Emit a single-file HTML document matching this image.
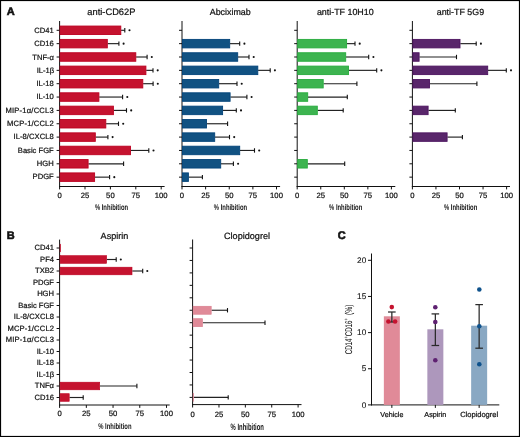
<!DOCTYPE html>
<html><head><meta charset="utf-8"><style>
html,body{margin:0;padding:0;background:#fff;}
svg{display:block;font-family:"Liberation Sans", sans-serif;will-change:transform;}
text{stroke:#111;stroke-width:0.22px;text-rendering:geometricPrecision;}
</style></head><body>
<svg width="520" height="437" viewBox="0 0 520 437">
<rect x="0" y="0" width="520" height="437" fill="#fff"/>
<line x1="59.60" y1="21.00" x2="59.60" y2="187.00" stroke="#111" stroke-width="1"/>
<line x1="59.10" y1="186.50" x2="164.60" y2="186.50" stroke="#111" stroke-width="1"/>
<line x1="56.60" y1="30.30" x2="59.60" y2="30.30" stroke="#111" stroke-width="1"/>
<line x1="56.60" y1="43.65" x2="59.60" y2="43.65" stroke="#111" stroke-width="1"/>
<line x1="56.60" y1="57.00" x2="59.60" y2="57.00" stroke="#111" stroke-width="1"/>
<line x1="56.60" y1="70.35" x2="59.60" y2="70.35" stroke="#111" stroke-width="1"/>
<line x1="56.60" y1="83.70" x2="59.60" y2="83.70" stroke="#111" stroke-width="1"/>
<line x1="56.60" y1="97.05" x2="59.60" y2="97.05" stroke="#111" stroke-width="1"/>
<line x1="56.60" y1="110.40" x2="59.60" y2="110.40" stroke="#111" stroke-width="1"/>
<line x1="56.60" y1="123.75" x2="59.60" y2="123.75" stroke="#111" stroke-width="1"/>
<line x1="56.60" y1="137.10" x2="59.60" y2="137.10" stroke="#111" stroke-width="1"/>
<line x1="56.60" y1="150.45" x2="59.60" y2="150.45" stroke="#111" stroke-width="1"/>
<line x1="56.60" y1="163.80" x2="59.60" y2="163.80" stroke="#111" stroke-width="1"/>
<line x1="56.60" y1="177.15" x2="59.60" y2="177.15" stroke="#111" stroke-width="1"/>
<line x1="59.60" y1="186.50" x2="59.60" y2="189.40" stroke="#111" stroke-width="1"/>
<text x="59.60" y="197.60" font-size="7.7" text-anchor="middle" font-weight="normal" fill="#111" >0</text>
<line x1="85.00" y1="186.50" x2="85.00" y2="189.40" stroke="#111" stroke-width="1"/>
<text x="85.00" y="197.60" font-size="7.7" text-anchor="middle" font-weight="normal" fill="#111" >25</text>
<line x1="110.40" y1="186.50" x2="110.40" y2="189.40" stroke="#111" stroke-width="1"/>
<text x="110.40" y="197.60" font-size="7.7" text-anchor="middle" font-weight="normal" fill="#111" >50</text>
<line x1="135.80" y1="186.50" x2="135.80" y2="189.40" stroke="#111" stroke-width="1"/>
<text x="135.80" y="197.60" font-size="7.7" text-anchor="middle" font-weight="normal" fill="#111" >75</text>
<line x1="161.20" y1="186.50" x2="161.20" y2="189.40" stroke="#111" stroke-width="1"/>
<text x="161.20" y="197.60" font-size="7.7" text-anchor="middle" font-weight="normal" fill="#111" >100</text>
<line x1="121.10" y1="30.30" x2="124.80" y2="30.30" stroke="#222" stroke-width="1.15"/>
<line x1="124.80" y1="28.10" x2="124.80" y2="32.50" stroke="#111" stroke-width="1.1"/>
<rect x="60.10" y="26.05" width="60.70" height="8.50" fill="#c5132f" stroke="#bc0020" stroke-width="0.9"/>
<circle cx="129.50" cy="30.30" r="1.05" fill="#111"/>
<line x1="107.60" y1="43.65" x2="118.90" y2="43.65" stroke="#222" stroke-width="1.15"/>
<line x1="118.90" y1="41.45" x2="118.90" y2="45.85" stroke="#111" stroke-width="1.1"/>
<rect x="60.10" y="39.40" width="47.20" height="8.50" fill="#c5132f" stroke="#bc0020" stroke-width="0.9"/>
<circle cx="123.60" cy="43.65" r="1.05" fill="#111"/>
<line x1="136.10" y1="57.00" x2="147.10" y2="57.00" stroke="#222" stroke-width="1.15"/>
<line x1="147.10" y1="54.80" x2="147.10" y2="59.20" stroke="#111" stroke-width="1.1"/>
<rect x="60.10" y="52.75" width="75.70" height="8.50" fill="#c5132f" stroke="#bc0020" stroke-width="0.9"/>
<circle cx="151.80" cy="57.00" r="1.05" fill="#111"/>
<line x1="146.20" y1="70.35" x2="153.00" y2="70.35" stroke="#222" stroke-width="1.15"/>
<line x1="153.00" y1="68.15" x2="153.00" y2="72.55" stroke="#111" stroke-width="1.1"/>
<rect x="60.10" y="66.10" width="85.80" height="8.50" fill="#c5132f" stroke="#bc0020" stroke-width="0.9"/>
<circle cx="157.70" cy="70.35" r="1.05" fill="#111"/>
<line x1="143.10" y1="83.70" x2="153.10" y2="83.70" stroke="#222" stroke-width="1.15"/>
<line x1="153.10" y1="81.50" x2="153.10" y2="85.90" stroke="#111" stroke-width="1.1"/>
<rect x="60.10" y="79.45" width="82.70" height="8.50" fill="#c5132f" stroke="#bc0020" stroke-width="0.9"/>
<circle cx="157.80" cy="83.70" r="1.05" fill="#111"/>
<line x1="99.20" y1="97.05" x2="122.60" y2="97.05" stroke="#222" stroke-width="1.15"/>
<line x1="122.60" y1="94.85" x2="122.60" y2="99.25" stroke="#111" stroke-width="1.1"/>
<rect x="60.10" y="92.80" width="38.80" height="8.50" fill="#c5132f" stroke="#bc0020" stroke-width="0.9"/>
<circle cx="127.30" cy="97.05" r="1.05" fill="#111"/>
<line x1="113.70" y1="110.40" x2="126.50" y2="110.40" stroke="#222" stroke-width="1.15"/>
<line x1="126.50" y1="108.20" x2="126.50" y2="112.60" stroke="#111" stroke-width="1.1"/>
<rect x="60.10" y="106.15" width="53.30" height="8.50" fill="#c5132f" stroke="#bc0020" stroke-width="0.9"/>
<circle cx="131.20" cy="110.40" r="1.05" fill="#111"/>
<line x1="106.10" y1="123.75" x2="118.50" y2="123.75" stroke="#222" stroke-width="1.15"/>
<line x1="118.50" y1="121.55" x2="118.50" y2="125.95" stroke="#111" stroke-width="1.1"/>
<rect x="60.10" y="119.50" width="45.70" height="8.50" fill="#c5132f" stroke="#bc0020" stroke-width="0.9"/>
<circle cx="123.20" cy="123.75" r="1.05" fill="#111"/>
<line x1="95.60" y1="137.10" x2="107.90" y2="137.10" stroke="#222" stroke-width="1.15"/>
<line x1="107.90" y1="134.90" x2="107.90" y2="139.30" stroke="#111" stroke-width="1.1"/>
<rect x="60.10" y="132.85" width="35.20" height="8.50" fill="#c5132f" stroke="#bc0020" stroke-width="0.9"/>
<circle cx="112.60" cy="137.10" r="1.05" fill="#111"/>
<line x1="130.80" y1="150.45" x2="148.80" y2="150.45" stroke="#222" stroke-width="1.15"/>
<line x1="148.80" y1="148.25" x2="148.80" y2="152.65" stroke="#111" stroke-width="1.1"/>
<rect x="60.10" y="146.20" width="70.40" height="8.50" fill="#c5132f" stroke="#bc0020" stroke-width="0.9"/>
<circle cx="153.50" cy="150.45" r="1.05" fill="#111"/>
<line x1="88.40" y1="163.80" x2="123.60" y2="163.80" stroke="#222" stroke-width="1.15"/>
<line x1="123.60" y1="161.60" x2="123.60" y2="166.00" stroke="#111" stroke-width="1.1"/>
<rect x="60.10" y="159.55" width="28.00" height="8.50" fill="#c5132f" stroke="#bc0020" stroke-width="0.9"/>
<line x1="94.90" y1="177.15" x2="109.60" y2="177.15" stroke="#222" stroke-width="1.15"/>
<line x1="109.60" y1="174.95" x2="109.60" y2="179.35" stroke="#111" stroke-width="1.1"/>
<rect x="60.10" y="172.90" width="34.50" height="8.50" fill="#c5132f" stroke="#bc0020" stroke-width="0.9"/>
<circle cx="114.30" cy="177.15" r="1.05" fill="#111"/>
<text x="53.70" y="32.60" font-size="7.6" text-anchor="end" font-weight="normal" fill="#111" >CD41</text>
<text x="53.70" y="45.95" font-size="7.6" text-anchor="end" font-weight="normal" fill="#111" >CD16</text>
<text x="54.00" y="59.90" font-size="7.6" text-anchor="end" font-weight="normal" fill="#111" >TNF-&#945;</text>
<text x="54.20" y="73.25" font-size="7.6" text-anchor="end" font-weight="normal" fill="#111" >IL-1&#946;</text>
<text x="53.70" y="86.00" font-size="7.6" text-anchor="end" font-weight="normal" fill="#111" >IL-18</text>
<text x="53.70" y="99.35" font-size="7.6" text-anchor="end" font-weight="normal" fill="#111" >IL-10</text>
<text x="53.70" y="112.70" font-size="7.6" text-anchor="end" font-weight="normal" fill="#111"  textLength="48.30" lengthAdjust="spacing">MIP-1&#945;/CCL3</text>
<text x="53.70" y="126.05" font-size="7.6" text-anchor="end" font-weight="normal" fill="#111"  textLength="46.60" lengthAdjust="spacing">MCP-1/CCL2</text>
<text x="53.70" y="139.40" font-size="7.6" text-anchor="end" font-weight="normal" fill="#111"  textLength="40.20" lengthAdjust="spacing">IL-8/CXCL8</text>
<text x="53.70" y="152.75" font-size="7.6" text-anchor="end" font-weight="normal" fill="#111" >Basic FGF</text>
<text x="53.70" y="166.10" font-size="7.6" text-anchor="end" font-weight="normal" fill="#111" >HGH</text>
<text x="53.70" y="179.45" font-size="7.6" text-anchor="end" font-weight="normal" fill="#111" >PDGF</text>
<g transform="translate(111.50,210.00) scale(0.7,1)"><text x="0" y="0" font-size="8.4" text-anchor="middle" font-weight="bold" fill="#111" style="stroke-width:0px">% Inhibition</text></g>
<text x="111.40" y="15.10" font-size="9.3" text-anchor="middle" font-weight="normal" fill="#111" >anti-CD62P</text>
<line x1="182.00" y1="21.00" x2="182.00" y2="187.00" stroke="#111" stroke-width="1"/>
<line x1="181.50" y1="186.50" x2="280.10" y2="186.50" stroke="#111" stroke-width="1"/>
<line x1="179.00" y1="30.30" x2="182.00" y2="30.30" stroke="#111" stroke-width="1"/>
<line x1="179.00" y1="43.65" x2="182.00" y2="43.65" stroke="#111" stroke-width="1"/>
<line x1="179.00" y1="57.00" x2="182.00" y2="57.00" stroke="#111" stroke-width="1"/>
<line x1="179.00" y1="70.35" x2="182.00" y2="70.35" stroke="#111" stroke-width="1"/>
<line x1="179.00" y1="83.70" x2="182.00" y2="83.70" stroke="#111" stroke-width="1"/>
<line x1="179.00" y1="97.05" x2="182.00" y2="97.05" stroke="#111" stroke-width="1"/>
<line x1="179.00" y1="110.40" x2="182.00" y2="110.40" stroke="#111" stroke-width="1"/>
<line x1="179.00" y1="123.75" x2="182.00" y2="123.75" stroke="#111" stroke-width="1"/>
<line x1="179.00" y1="137.10" x2="182.00" y2="137.10" stroke="#111" stroke-width="1"/>
<line x1="179.00" y1="150.45" x2="182.00" y2="150.45" stroke="#111" stroke-width="1"/>
<line x1="179.00" y1="163.80" x2="182.00" y2="163.80" stroke="#111" stroke-width="1"/>
<line x1="179.00" y1="177.15" x2="182.00" y2="177.15" stroke="#111" stroke-width="1"/>
<line x1="182.00" y1="186.50" x2="182.00" y2="189.40" stroke="#111" stroke-width="1"/>
<text x="182.00" y="197.60" font-size="7.7" text-anchor="middle" font-weight="normal" fill="#111" >0</text>
<line x1="205.62" y1="186.50" x2="205.62" y2="189.40" stroke="#111" stroke-width="1"/>
<text x="205.62" y="197.60" font-size="7.7" text-anchor="middle" font-weight="normal" fill="#111" >25</text>
<line x1="229.25" y1="186.50" x2="229.25" y2="189.40" stroke="#111" stroke-width="1"/>
<text x="229.25" y="197.60" font-size="7.7" text-anchor="middle" font-weight="normal" fill="#111" >50</text>
<line x1="252.88" y1="186.50" x2="252.88" y2="189.40" stroke="#111" stroke-width="1"/>
<text x="252.88" y="197.60" font-size="7.7" text-anchor="middle" font-weight="normal" fill="#111" >75</text>
<line x1="276.50" y1="186.50" x2="276.50" y2="189.40" stroke="#111" stroke-width="1"/>
<text x="276.50" y="197.60" font-size="7.7" text-anchor="middle" font-weight="normal" fill="#111" >100</text>
<line x1="230.00" y1="43.65" x2="239.70" y2="43.65" stroke="#222" stroke-width="1.15"/>
<line x1="239.70" y1="41.45" x2="239.70" y2="45.85" stroke="#111" stroke-width="1.1"/>
<rect x="182.50" y="39.40" width="47.20" height="8.50" fill="#115282" stroke="#03447a" stroke-width="0.9"/>
<circle cx="244.40" cy="43.65" r="1.05" fill="#111"/>
<line x1="238.00" y1="57.00" x2="249.00" y2="57.00" stroke="#222" stroke-width="1.15"/>
<line x1="249.00" y1="54.80" x2="249.00" y2="59.20" stroke="#111" stroke-width="1.1"/>
<rect x="182.50" y="52.75" width="55.20" height="8.50" fill="#115282" stroke="#03447a" stroke-width="0.9"/>
<circle cx="253.70" cy="57.00" r="1.05" fill="#111"/>
<line x1="258.10" y1="70.35" x2="270.20" y2="70.35" stroke="#222" stroke-width="1.15"/>
<line x1="270.20" y1="68.15" x2="270.20" y2="72.55" stroke="#111" stroke-width="1.1"/>
<rect x="182.50" y="66.10" width="75.30" height="8.50" fill="#115282" stroke="#03447a" stroke-width="0.9"/>
<circle cx="274.90" cy="70.35" r="1.05" fill="#111"/>
<line x1="219.00" y1="83.70" x2="237.00" y2="83.70" stroke="#222" stroke-width="1.15"/>
<line x1="237.00" y1="81.50" x2="237.00" y2="85.90" stroke="#111" stroke-width="1.1"/>
<rect x="182.50" y="79.45" width="36.20" height="8.50" fill="#115282" stroke="#03447a" stroke-width="0.9"/>
<circle cx="241.70" cy="83.70" r="1.05" fill="#111"/>
<line x1="230.40" y1="97.05" x2="246.90" y2="97.05" stroke="#222" stroke-width="1.15"/>
<line x1="246.90" y1="94.85" x2="246.90" y2="99.25" stroke="#111" stroke-width="1.1"/>
<rect x="182.50" y="92.80" width="47.60" height="8.50" fill="#115282" stroke="#03447a" stroke-width="0.9"/>
<circle cx="251.60" cy="97.05" r="1.05" fill="#111"/>
<line x1="222.90" y1="110.40" x2="236.30" y2="110.40" stroke="#222" stroke-width="1.15"/>
<line x1="236.30" y1="108.20" x2="236.30" y2="112.60" stroke="#111" stroke-width="1.1"/>
<rect x="182.50" y="106.15" width="40.10" height="8.50" fill="#115282" stroke="#03447a" stroke-width="0.9"/>
<circle cx="241.00" cy="110.40" r="1.05" fill="#111"/>
<line x1="206.80" y1="123.75" x2="227.60" y2="123.75" stroke="#222" stroke-width="1.15"/>
<line x1="227.60" y1="121.55" x2="227.60" y2="125.95" stroke="#111" stroke-width="1.1"/>
<rect x="182.50" y="119.50" width="24.00" height="8.50" fill="#115282" stroke="#03447a" stroke-width="0.9"/>
<line x1="215.00" y1="137.10" x2="229.50" y2="137.10" stroke="#222" stroke-width="1.15"/>
<line x1="229.50" y1="134.90" x2="229.50" y2="139.30" stroke="#111" stroke-width="1.1"/>
<rect x="182.50" y="132.85" width="32.20" height="8.50" fill="#115282" stroke="#03447a" stroke-width="0.9"/>
<circle cx="234.20" cy="137.10" r="1.05" fill="#111"/>
<line x1="240.00" y1="150.45" x2="254.50" y2="150.45" stroke="#222" stroke-width="1.15"/>
<line x1="254.50" y1="148.25" x2="254.50" y2="152.65" stroke="#111" stroke-width="1.1"/>
<rect x="182.50" y="146.20" width="57.20" height="8.50" fill="#115282" stroke="#03447a" stroke-width="0.9"/>
<circle cx="259.20" cy="150.45" r="1.05" fill="#111"/>
<line x1="221.00" y1="163.80" x2="233.40" y2="163.80" stroke="#222" stroke-width="1.15"/>
<line x1="233.40" y1="161.60" x2="233.40" y2="166.00" stroke="#111" stroke-width="1.1"/>
<rect x="182.50" y="159.55" width="38.20" height="8.50" fill="#115282" stroke="#03447a" stroke-width="0.9"/>
<circle cx="238.10" cy="163.80" r="1.05" fill="#111"/>
<line x1="188.70" y1="177.15" x2="202.40" y2="177.15" stroke="#222" stroke-width="1.15"/>
<line x1="202.40" y1="174.95" x2="202.40" y2="179.35" stroke="#111" stroke-width="1.1"/>
<rect x="182.50" y="172.90" width="5.90" height="8.50" fill="#115282" stroke="#03447a" stroke-width="0.9"/>
<g transform="translate(230.45,210.00) scale(0.7,1)"><text x="0" y="0" font-size="8.4" text-anchor="middle" font-weight="bold" fill="#111" style="stroke-width:0px">% Inhibition</text></g>
<text x="230.20" y="15.10" font-size="8.9" text-anchor="middle" font-weight="normal" fill="#111" >Abciximab</text>
<line x1="297.20" y1="21.00" x2="297.20" y2="187.00" stroke="#111" stroke-width="1"/>
<line x1="296.70" y1="186.50" x2="395.30" y2="186.50" stroke="#111" stroke-width="1"/>
<line x1="294.20" y1="30.30" x2="297.20" y2="30.30" stroke="#111" stroke-width="1"/>
<line x1="294.20" y1="43.65" x2="297.20" y2="43.65" stroke="#111" stroke-width="1"/>
<line x1="294.20" y1="57.00" x2="297.20" y2="57.00" stroke="#111" stroke-width="1"/>
<line x1="294.20" y1="70.35" x2="297.20" y2="70.35" stroke="#111" stroke-width="1"/>
<line x1="294.20" y1="83.70" x2="297.20" y2="83.70" stroke="#111" stroke-width="1"/>
<line x1="294.20" y1="97.05" x2="297.20" y2="97.05" stroke="#111" stroke-width="1"/>
<line x1="294.20" y1="110.40" x2="297.20" y2="110.40" stroke="#111" stroke-width="1"/>
<line x1="294.20" y1="123.75" x2="297.20" y2="123.75" stroke="#111" stroke-width="1"/>
<line x1="294.20" y1="137.10" x2="297.20" y2="137.10" stroke="#111" stroke-width="1"/>
<line x1="294.20" y1="150.45" x2="297.20" y2="150.45" stroke="#111" stroke-width="1"/>
<line x1="294.20" y1="163.80" x2="297.20" y2="163.80" stroke="#111" stroke-width="1"/>
<line x1="294.20" y1="177.15" x2="297.20" y2="177.15" stroke="#111" stroke-width="1"/>
<line x1="297.20" y1="186.50" x2="297.20" y2="189.40" stroke="#111" stroke-width="1"/>
<text x="297.20" y="197.60" font-size="7.7" text-anchor="middle" font-weight="normal" fill="#111" >0</text>
<line x1="320.75" y1="186.50" x2="320.75" y2="189.40" stroke="#111" stroke-width="1"/>
<text x="320.75" y="197.60" font-size="7.7" text-anchor="middle" font-weight="normal" fill="#111" >25</text>
<line x1="344.30" y1="186.50" x2="344.30" y2="189.40" stroke="#111" stroke-width="1"/>
<text x="344.30" y="197.60" font-size="7.7" text-anchor="middle" font-weight="normal" fill="#111" >50</text>
<line x1="367.85" y1="186.50" x2="367.85" y2="189.40" stroke="#111" stroke-width="1"/>
<text x="367.85" y="197.60" font-size="7.7" text-anchor="middle" font-weight="normal" fill="#111" >75</text>
<line x1="391.40" y1="186.50" x2="391.40" y2="189.40" stroke="#111" stroke-width="1"/>
<text x="391.40" y="197.60" font-size="7.7" text-anchor="middle" font-weight="normal" fill="#111" >100</text>
<line x1="346.90" y1="43.65" x2="355.00" y2="43.65" stroke="#222" stroke-width="1.15"/>
<line x1="355.00" y1="41.45" x2="355.00" y2="45.85" stroke="#111" stroke-width="1.1"/>
<rect x="297.70" y="39.40" width="48.90" height="8.50" fill="#3db450" stroke="#27ab3c" stroke-width="0.9"/>
<circle cx="359.70" cy="43.65" r="1.05" fill="#111"/>
<line x1="346.00" y1="57.00" x2="368.70" y2="57.00" stroke="#222" stroke-width="1.15"/>
<line x1="368.70" y1="54.80" x2="368.70" y2="59.20" stroke="#111" stroke-width="1.1"/>
<rect x="297.70" y="52.75" width="48.00" height="8.50" fill="#3db450" stroke="#27ab3c" stroke-width="0.9"/>
<circle cx="373.40" cy="57.00" r="1.05" fill="#111"/>
<line x1="348.80" y1="70.35" x2="376.70" y2="70.35" stroke="#222" stroke-width="1.15"/>
<line x1="376.70" y1="68.15" x2="376.70" y2="72.55" stroke="#111" stroke-width="1.1"/>
<rect x="297.70" y="66.10" width="50.80" height="8.50" fill="#3db450" stroke="#27ab3c" stroke-width="0.9"/>
<circle cx="381.40" cy="70.35" r="1.05" fill="#111"/>
<line x1="323.50" y1="83.70" x2="356.90" y2="83.70" stroke="#222" stroke-width="1.15"/>
<line x1="356.90" y1="81.50" x2="356.90" y2="85.90" stroke="#111" stroke-width="1.1"/>
<rect x="297.70" y="79.45" width="25.50" height="8.50" fill="#3db450" stroke="#27ab3c" stroke-width="0.9"/>
<line x1="308.00" y1="97.05" x2="347.30" y2="97.05" stroke="#222" stroke-width="1.15"/>
<line x1="347.30" y1="94.85" x2="347.30" y2="99.25" stroke="#111" stroke-width="1.1"/>
<rect x="297.70" y="92.80" width="10.00" height="8.50" fill="#3db450" stroke="#27ab3c" stroke-width="0.9"/>
<line x1="317.60" y1="110.40" x2="343.20" y2="110.40" stroke="#222" stroke-width="1.15"/>
<line x1="343.20" y1="108.20" x2="343.20" y2="112.60" stroke="#111" stroke-width="1.1"/>
<rect x="297.70" y="106.15" width="19.60" height="8.50" fill="#3db450" stroke="#27ab3c" stroke-width="0.9"/>
<line x1="307.60" y1="163.80" x2="344.70" y2="163.80" stroke="#222" stroke-width="1.15"/>
<line x1="344.70" y1="161.60" x2="344.70" y2="166.00" stroke="#111" stroke-width="1.1"/>
<rect x="297.70" y="159.55" width="9.60" height="8.50" fill="#3db450" stroke="#27ab3c" stroke-width="0.9"/>
<g transform="translate(345.65,210.00) scale(0.7,1)"><text x="0" y="0" font-size="8.4" text-anchor="middle" font-weight="bold" fill="#111" style="stroke-width:0px">% Inhibition</text></g>
<text x="345.30" y="15.10" font-size="8.9" text-anchor="middle" font-weight="normal" fill="#111" >anti-TF 10H10</text>
<line x1="412.40" y1="21.00" x2="412.40" y2="187.00" stroke="#111" stroke-width="1"/>
<line x1="411.90" y1="186.50" x2="510.00" y2="186.50" stroke="#111" stroke-width="1"/>
<line x1="409.40" y1="30.30" x2="412.40" y2="30.30" stroke="#111" stroke-width="1"/>
<line x1="409.40" y1="43.65" x2="412.40" y2="43.65" stroke="#111" stroke-width="1"/>
<line x1="409.40" y1="57.00" x2="412.40" y2="57.00" stroke="#111" stroke-width="1"/>
<line x1="409.40" y1="70.35" x2="412.40" y2="70.35" stroke="#111" stroke-width="1"/>
<line x1="409.40" y1="83.70" x2="412.40" y2="83.70" stroke="#111" stroke-width="1"/>
<line x1="409.40" y1="97.05" x2="412.40" y2="97.05" stroke="#111" stroke-width="1"/>
<line x1="409.40" y1="110.40" x2="412.40" y2="110.40" stroke="#111" stroke-width="1"/>
<line x1="409.40" y1="123.75" x2="412.40" y2="123.75" stroke="#111" stroke-width="1"/>
<line x1="409.40" y1="137.10" x2="412.40" y2="137.10" stroke="#111" stroke-width="1"/>
<line x1="409.40" y1="150.45" x2="412.40" y2="150.45" stroke="#111" stroke-width="1"/>
<line x1="409.40" y1="163.80" x2="412.40" y2="163.80" stroke="#111" stroke-width="1"/>
<line x1="409.40" y1="177.15" x2="412.40" y2="177.15" stroke="#111" stroke-width="1"/>
<line x1="412.40" y1="186.50" x2="412.40" y2="189.40" stroke="#111" stroke-width="1"/>
<text x="412.40" y="197.60" font-size="7.7" text-anchor="middle" font-weight="normal" fill="#111" >0</text>
<line x1="435.95" y1="186.50" x2="435.95" y2="189.40" stroke="#111" stroke-width="1"/>
<text x="435.95" y="197.60" font-size="7.7" text-anchor="middle" font-weight="normal" fill="#111" >25</text>
<line x1="459.50" y1="186.50" x2="459.50" y2="189.40" stroke="#111" stroke-width="1"/>
<text x="459.50" y="197.60" font-size="7.7" text-anchor="middle" font-weight="normal" fill="#111" >50</text>
<line x1="483.05" y1="186.50" x2="483.05" y2="189.40" stroke="#111" stroke-width="1"/>
<text x="483.05" y="197.60" font-size="7.7" text-anchor="middle" font-weight="normal" fill="#111" >75</text>
<line x1="506.60" y1="186.50" x2="506.60" y2="189.40" stroke="#111" stroke-width="1"/>
<text x="506.60" y="197.60" font-size="7.7" text-anchor="middle" font-weight="normal" fill="#111" >100</text>
<line x1="460.30" y1="43.65" x2="476.20" y2="43.65" stroke="#222" stroke-width="1.15"/>
<line x1="476.20" y1="41.45" x2="476.20" y2="45.85" stroke="#111" stroke-width="1.1"/>
<rect x="412.90" y="39.40" width="47.10" height="8.50" fill="#59266b" stroke="#4d1460" stroke-width="0.9"/>
<circle cx="480.90" cy="43.65" r="1.05" fill="#111"/>
<line x1="419.40" y1="57.00" x2="456.50" y2="57.00" stroke="#222" stroke-width="1.15"/>
<line x1="456.50" y1="54.80" x2="456.50" y2="59.20" stroke="#111" stroke-width="1.1"/>
<rect x="412.90" y="52.75" width="6.20" height="8.50" fill="#59266b" stroke="#4d1460" stroke-width="0.9"/>
<line x1="488.00" y1="70.35" x2="506.30" y2="70.35" stroke="#222" stroke-width="1.15"/>
<line x1="506.30" y1="68.15" x2="506.30" y2="72.55" stroke="#111" stroke-width="1.1"/>
<rect x="412.90" y="66.10" width="74.80" height="8.50" fill="#59266b" stroke="#4d1460" stroke-width="0.9"/>
<circle cx="511.00" cy="70.35" r="1.05" fill="#111"/>
<line x1="429.80" y1="83.70" x2="476.90" y2="83.70" stroke="#222" stroke-width="1.15"/>
<line x1="476.90" y1="81.50" x2="476.90" y2="85.90" stroke="#111" stroke-width="1.1"/>
<rect x="412.90" y="79.45" width="16.60" height="8.50" fill="#59266b" stroke="#4d1460" stroke-width="0.9"/>
<line x1="428.40" y1="110.40" x2="455.30" y2="110.40" stroke="#222" stroke-width="1.15"/>
<line x1="455.30" y1="108.20" x2="455.30" y2="112.60" stroke="#111" stroke-width="1.1"/>
<rect x="412.90" y="106.15" width="15.20" height="8.50" fill="#59266b" stroke="#4d1460" stroke-width="0.9"/>
<line x1="447.40" y1="137.10" x2="462.40" y2="137.10" stroke="#222" stroke-width="1.15"/>
<line x1="462.40" y1="134.90" x2="462.40" y2="139.30" stroke="#111" stroke-width="1.1"/>
<rect x="412.90" y="132.85" width="34.20" height="8.50" fill="#59266b" stroke="#4d1460" stroke-width="0.9"/>
<g transform="translate(460.60,210.00) scale(0.7,1)"><text x="0" y="0" font-size="8.4" text-anchor="middle" font-weight="bold" fill="#111" style="stroke-width:0px">% Inhibition</text></g>
<text x="460.40" y="15.10" font-size="8.9" text-anchor="middle" font-weight="normal" fill="#111" >anti-TF 5G9</text>
<line x1="59.60" y1="239.60" x2="59.60" y2="405.50" stroke="#111" stroke-width="1"/>
<line x1="59.10" y1="405.00" x2="169.70" y2="405.00" stroke="#111" stroke-width="1"/>
<line x1="56.60" y1="248.00" x2="59.60" y2="248.00" stroke="#111" stroke-width="1"/>
<line x1="56.60" y1="259.50" x2="59.60" y2="259.50" stroke="#111" stroke-width="1"/>
<line x1="56.60" y1="271.00" x2="59.60" y2="271.00" stroke="#111" stroke-width="1"/>
<line x1="56.60" y1="282.50" x2="59.60" y2="282.50" stroke="#111" stroke-width="1"/>
<line x1="56.60" y1="294.00" x2="59.60" y2="294.00" stroke="#111" stroke-width="1"/>
<line x1="56.60" y1="305.50" x2="59.60" y2="305.50" stroke="#111" stroke-width="1"/>
<line x1="56.60" y1="317.00" x2="59.60" y2="317.00" stroke="#111" stroke-width="1"/>
<line x1="56.60" y1="328.50" x2="59.60" y2="328.50" stroke="#111" stroke-width="1"/>
<line x1="56.60" y1="340.00" x2="59.60" y2="340.00" stroke="#111" stroke-width="1"/>
<line x1="56.60" y1="351.50" x2="59.60" y2="351.50" stroke="#111" stroke-width="1"/>
<line x1="56.60" y1="363.00" x2="59.60" y2="363.00" stroke="#111" stroke-width="1"/>
<line x1="56.60" y1="374.50" x2="59.60" y2="374.50" stroke="#111" stroke-width="1"/>
<line x1="56.60" y1="386.00" x2="59.60" y2="386.00" stroke="#111" stroke-width="1"/>
<line x1="56.60" y1="397.50" x2="59.60" y2="397.50" stroke="#111" stroke-width="1"/>
<line x1="59.60" y1="405.00" x2="59.60" y2="407.90" stroke="#111" stroke-width="1"/>
<text x="59.60" y="416.30" font-size="7.7" text-anchor="middle" font-weight="normal" fill="#111" >0</text>
<line x1="86.33" y1="405.00" x2="86.33" y2="407.90" stroke="#111" stroke-width="1"/>
<text x="86.33" y="416.30" font-size="7.7" text-anchor="middle" font-weight="normal" fill="#111" >25</text>
<line x1="113.05" y1="405.00" x2="113.05" y2="407.90" stroke="#111" stroke-width="1"/>
<text x="113.05" y="416.30" font-size="7.7" text-anchor="middle" font-weight="normal" fill="#111" >50</text>
<line x1="139.78" y1="405.00" x2="139.78" y2="407.90" stroke="#111" stroke-width="1"/>
<text x="139.78" y="416.30" font-size="7.7" text-anchor="middle" font-weight="normal" fill="#111" >75</text>
<line x1="166.50" y1="405.00" x2="166.50" y2="407.90" stroke="#111" stroke-width="1"/>
<text x="166.50" y="416.30" font-size="7.7" text-anchor="middle" font-weight="normal" fill="#111" >100</text>
<rect x="60.10" y="244.20" width="0.50" height="7.60" fill="#c5132f" stroke="#bc0020" stroke-width="0.6"/>
<line x1="106.90" y1="259.50" x2="116.20" y2="259.50" stroke="#222" stroke-width="1.15"/>
<line x1="116.20" y1="257.30" x2="116.20" y2="261.70" stroke="#111" stroke-width="1.1"/>
<rect x="60.10" y="255.70" width="46.50" height="7.60" fill="#c5132f" stroke="#bc0020" stroke-width="0.6"/>
<circle cx="120.80" cy="259.50" r="1.05" fill="#111"/>
<line x1="132.30" y1="271.00" x2="142.70" y2="271.00" stroke="#222" stroke-width="1.15"/>
<line x1="142.70" y1="268.80" x2="142.70" y2="273.20" stroke="#111" stroke-width="1.1"/>
<rect x="60.10" y="267.20" width="71.90" height="7.60" fill="#c5132f" stroke="#bc0020" stroke-width="0.6"/>
<circle cx="147.30" cy="271.00" r="1.05" fill="#111"/>
<line x1="100.00" y1="386.00" x2="136.90" y2="386.00" stroke="#222" stroke-width="1.15"/>
<line x1="136.90" y1="383.80" x2="136.90" y2="388.20" stroke="#111" stroke-width="1.1"/>
<rect x="60.10" y="382.20" width="39.60" height="7.60" fill="#c5132f" stroke="#bc0020" stroke-width="0.6"/>
<line x1="69.50" y1="397.50" x2="83.20" y2="397.50" stroke="#222" stroke-width="1.15"/>
<line x1="83.20" y1="395.30" x2="83.20" y2="399.70" stroke="#111" stroke-width="1.1"/>
<rect x="60.10" y="393.70" width="9.10" height="7.60" fill="#c5132f" stroke="#bc0020" stroke-width="0.6"/>
<text x="54.00" y="250.30" font-size="7.6" text-anchor="end" font-weight="normal" fill="#111" >CD41</text>
<text x="54.00" y="261.80" font-size="7.6" text-anchor="end" font-weight="normal" fill="#111" >PF4</text>
<text x="54.00" y="273.30" font-size="7.6" text-anchor="end" font-weight="normal" fill="#111" >TXB2</text>
<text x="54.00" y="284.80" font-size="7.6" text-anchor="end" font-weight="normal" fill="#111" >PDGF</text>
<text x="54.00" y="296.30" font-size="7.6" text-anchor="end" font-weight="normal" fill="#111" >HGH</text>
<text x="54.00" y="307.80" font-size="7.6" text-anchor="end" font-weight="normal" fill="#111" >Basic FGF</text>
<text x="54.00" y="319.30" font-size="7.6" text-anchor="end" font-weight="normal" fill="#111"  textLength="40.20" lengthAdjust="spacing">IL-8/CXCL8</text>
<text x="54.00" y="330.80" font-size="7.6" text-anchor="end" font-weight="normal" fill="#111"  textLength="46.60" lengthAdjust="spacing">MCP-1/CCL2</text>
<text x="54.00" y="342.30" font-size="7.6" text-anchor="end" font-weight="normal" fill="#111"  textLength="48.30" lengthAdjust="spacing">MIP-1&#945;/CCL3</text>
<text x="54.00" y="353.80" font-size="7.6" text-anchor="end" font-weight="normal" fill="#111" >IL-10</text>
<text x="54.00" y="365.30" font-size="7.6" text-anchor="end" font-weight="normal" fill="#111" >IL-18</text>
<text x="54.00" y="376.80" font-size="7.6" text-anchor="end" font-weight="normal" fill="#111" >IL-1&#946;</text>
<text x="54.00" y="388.30" font-size="7.6" text-anchor="end" font-weight="normal" fill="#111" >TNF&#945;</text>
<text x="54.00" y="399.80" font-size="7.6" text-anchor="end" font-weight="normal" fill="#111" >CD16</text>
<g transform="translate(114.85,428.50) scale(0.7,1)"><text x="0" y="0" font-size="8.4" text-anchor="middle" font-weight="bold" fill="#111" style="stroke-width:0px">% Inhibition</text></g>
<text x="114.50" y="238.80" font-size="9.1" text-anchor="middle" font-weight="normal" fill="#111" >Aspirin</text>
<line x1="192.60" y1="239.50" x2="192.60" y2="405.10" stroke="#111" stroke-width="1"/>
<line x1="192.10" y1="404.60" x2="301.50" y2="404.60" stroke="#111" stroke-width="1"/>
<line x1="189.60" y1="248.00" x2="192.60" y2="248.00" stroke="#111" stroke-width="1"/>
<line x1="189.60" y1="260.45" x2="192.60" y2="260.45" stroke="#111" stroke-width="1"/>
<line x1="189.60" y1="272.90" x2="192.60" y2="272.90" stroke="#111" stroke-width="1"/>
<line x1="189.60" y1="285.35" x2="192.60" y2="285.35" stroke="#111" stroke-width="1"/>
<line x1="189.60" y1="297.80" x2="192.60" y2="297.80" stroke="#111" stroke-width="1"/>
<line x1="189.60" y1="310.25" x2="192.60" y2="310.25" stroke="#111" stroke-width="1"/>
<line x1="189.60" y1="322.70" x2="192.60" y2="322.70" stroke="#111" stroke-width="1"/>
<line x1="189.60" y1="335.15" x2="192.60" y2="335.15" stroke="#111" stroke-width="1"/>
<line x1="189.60" y1="347.60" x2="192.60" y2="347.60" stroke="#111" stroke-width="1"/>
<line x1="189.60" y1="360.05" x2="192.60" y2="360.05" stroke="#111" stroke-width="1"/>
<line x1="189.60" y1="372.50" x2="192.60" y2="372.50" stroke="#111" stroke-width="1"/>
<line x1="189.60" y1="384.95" x2="192.60" y2="384.95" stroke="#111" stroke-width="1"/>
<line x1="189.60" y1="397.40" x2="192.60" y2="397.40" stroke="#111" stroke-width="1"/>
<line x1="192.60" y1="404.60" x2="192.60" y2="407.50" stroke="#111" stroke-width="1"/>
<text x="192.60" y="416.70" font-size="7.7" text-anchor="middle" font-weight="normal" fill="#111" >0</text>
<line x1="218.97" y1="404.60" x2="218.97" y2="407.50" stroke="#111" stroke-width="1"/>
<text x="218.97" y="416.70" font-size="7.7" text-anchor="middle" font-weight="normal" fill="#111" >25</text>
<line x1="245.35" y1="404.60" x2="245.35" y2="407.50" stroke="#111" stroke-width="1"/>
<text x="245.35" y="416.70" font-size="7.7" text-anchor="middle" font-weight="normal" fill="#111" >50</text>
<line x1="271.73" y1="404.60" x2="271.73" y2="407.50" stroke="#111" stroke-width="1"/>
<text x="271.73" y="416.70" font-size="7.7" text-anchor="middle" font-weight="normal" fill="#111" >75</text>
<line x1="298.10" y1="404.60" x2="298.10" y2="407.50" stroke="#111" stroke-width="1"/>
<text x="298.10" y="416.70" font-size="7.7" text-anchor="middle" font-weight="normal" fill="#111" >100</text>
<line x1="211.50" y1="310.25" x2="227.50" y2="310.25" stroke="#222" stroke-width="1.15"/>
<line x1="227.50" y1="308.05" x2="227.50" y2="312.45" stroke="#111" stroke-width="1.1"/>
<rect x="193.10" y="306.25" width="18.10" height="8.00" fill="#e08a98" stroke="#d97a8a" stroke-width="0.6"/>
<line x1="202.80" y1="322.70" x2="265.00" y2="322.70" stroke="#222" stroke-width="1.15"/>
<line x1="265.00" y1="320.50" x2="265.00" y2="324.90" stroke="#111" stroke-width="1.1"/>
<rect x="193.10" y="318.70" width="9.40" height="8.00" fill="#e08a98" stroke="#d97a8a" stroke-width="0.6"/>
<line x1="193.70" y1="397.40" x2="228.20" y2="397.40" stroke="#222" stroke-width="1.15"/>
<line x1="228.20" y1="395.20" x2="228.20" y2="399.60" stroke="#111" stroke-width="1.1"/>
<rect x="193.10" y="393.40" width="0.50" height="8.00" fill="#e08a98" stroke="#d97a8a" stroke-width="0.6"/>
<g transform="translate(247.25,429.60) scale(0.64,1)"><text x="0" y="0" font-size="9.2" text-anchor="middle" font-weight="bold" fill="#111" style="stroke-width:0px">% Inhibition</text></g>
<text x="247.00" y="239.30" font-size="9.1" text-anchor="middle" font-weight="normal" fill="#111" >Clopidogrel</text>
<line x1="371.50" y1="253.50" x2="371.50" y2="405.40" stroke="#111" stroke-width="1"/>
<line x1="371.00" y1="404.90" x2="499.30" y2="404.90" stroke="#111" stroke-width="1"/>
<line x1="368.00" y1="404.90" x2="371.50" y2="404.90" stroke="#111" stroke-width="1"/>
<text x="366.20" y="407.60" font-size="8.2" text-anchor="end" font-weight="normal" fill="#111" style="stroke-width:0.1px">0</text>
<line x1="368.00" y1="368.75" x2="371.50" y2="368.75" stroke="#111" stroke-width="1"/>
<text x="366.20" y="371.45" font-size="8.2" text-anchor="end" font-weight="normal" fill="#111" style="stroke-width:0.1px">5</text>
<line x1="368.00" y1="332.60" x2="371.50" y2="332.60" stroke="#111" stroke-width="1"/>
<text x="366.20" y="335.30" font-size="8.2" text-anchor="end" font-weight="normal" fill="#111" style="stroke-width:0.1px">10</text>
<line x1="368.00" y1="296.45" x2="371.50" y2="296.45" stroke="#111" stroke-width="1"/>
<text x="366.20" y="299.15" font-size="8.2" text-anchor="end" font-weight="normal" fill="#111" style="stroke-width:0.1px">15</text>
<line x1="368.00" y1="260.30" x2="371.50" y2="260.30" stroke="#111" stroke-width="1"/>
<text x="366.20" y="263.00" font-size="8.2" text-anchor="end" font-weight="normal" fill="#111" style="stroke-width:0.1px">20</text>
<rect x="383.85" y="316.30" width="16" height="88.60" fill="#e08a98"/>
<line x1="391.85" y1="404.90" x2="391.85" y2="407.90" stroke="#111" stroke-width="1"/>
<line x1="391.85" y1="312.00" x2="391.85" y2="322.00" stroke="#2a2a2a" stroke-width="1.25"/>
<line x1="388.05" y1="312.00" x2="395.65" y2="312.00" stroke="#2a2a2a" stroke-width="1.25"/>
<line x1="388.05" y1="322.00" x2="395.65" y2="322.00" stroke="#2a2a2a" stroke-width="1.25"/>
<circle cx="391.80" cy="307.10" r="2.3" fill="#c5132f"/>
<circle cx="388.40" cy="321.50" r="2.3" fill="#c5132f"/>
<circle cx="395.10" cy="321.50" r="2.3" fill="#c5132f"/>
<text x="391.85" y="416.60" font-size="7.2" text-anchor="middle" font-weight="normal" fill="#111" >Vehicle</text>
<rect x="427.35" y="329.30" width="16" height="75.60" fill="#ad97bc"/>
<line x1="435.35" y1="404.90" x2="435.35" y2="407.90" stroke="#111" stroke-width="1"/>
<line x1="435.35" y1="313.90" x2="435.35" y2="345.50" stroke="#2a2a2a" stroke-width="1.25"/>
<line x1="431.55" y1="313.90" x2="439.15" y2="313.90" stroke="#2a2a2a" stroke-width="1.25"/>
<line x1="431.55" y1="345.50" x2="439.15" y2="345.50" stroke="#2a2a2a" stroke-width="1.25"/>
<circle cx="435.30" cy="307.30" r="2.3" fill="#5e2171"/>
<circle cx="435.30" cy="322.00" r="2.3" fill="#5e2171"/>
<circle cx="435.30" cy="360.20" r="2.3" fill="#5e2171"/>
<text x="435.35" y="416.60" font-size="7.2" text-anchor="middle" font-weight="normal" fill="#111" >Aspirin</text>
<rect x="471.15" y="325.70" width="16" height="79.20" fill="#89a8c3"/>
<line x1="479.15" y1="404.90" x2="479.15" y2="407.90" stroke="#111" stroke-width="1"/>
<line x1="479.15" y1="304.60" x2="479.15" y2="348.20" stroke="#2a2a2a" stroke-width="1.25"/>
<line x1="475.35" y1="304.60" x2="482.95" y2="304.60" stroke="#2a2a2a" stroke-width="1.25"/>
<line x1="475.35" y1="348.20" x2="482.95" y2="348.20" stroke="#2a2a2a" stroke-width="1.25"/>
<circle cx="479.30" cy="289.50" r="2.3" fill="#0f528c"/>
<circle cx="479.30" cy="326.30" r="2.3" fill="#0f528c"/>
<circle cx="479.30" cy="364.20" r="2.3" fill="#0f528c"/>
<text x="479.15" y="416.60" font-size="7.5" text-anchor="middle" font-weight="normal" fill="#111" >Clopidogrel</text>
<g transform="translate(351.9,354.3) rotate(-90)"><text x="0" y="0" font-size="9.8" style="stroke-width:0.05px" fill="#111" textLength="36" lengthAdjust="spacingAndGlyphs">CD14<tspan font-size="6" dy="-3.7">+</tspan><tspan dy="3.7">CD16</tspan><tspan font-size="6" dy="-3.7">+</tspan></text><text x="39.4" y="0" font-size="9.8" style="stroke-width:0.05px" fill="#111" textLength="10.4" lengthAdjust="spacingAndGlyphs">(%)</text></g>
<text x="6.80" y="14.80" font-size="11" text-anchor="start" font-weight="bold" fill="#111" style="stroke-width:0.6px">A</text>
<text x="6.70" y="239.00" font-size="11" text-anchor="start" font-weight="bold" fill="#111" style="stroke-width:0.6px">B</text>
<text x="337.70" y="239.10" font-size="11" text-anchor="start" font-weight="bold" fill="#111" style="stroke-width:0.6px">C</text>
<rect x="0.5" y="0.5" width="519" height="436" fill="none" stroke="#000" stroke-width="1.2"/>
</svg>
</body></html>
